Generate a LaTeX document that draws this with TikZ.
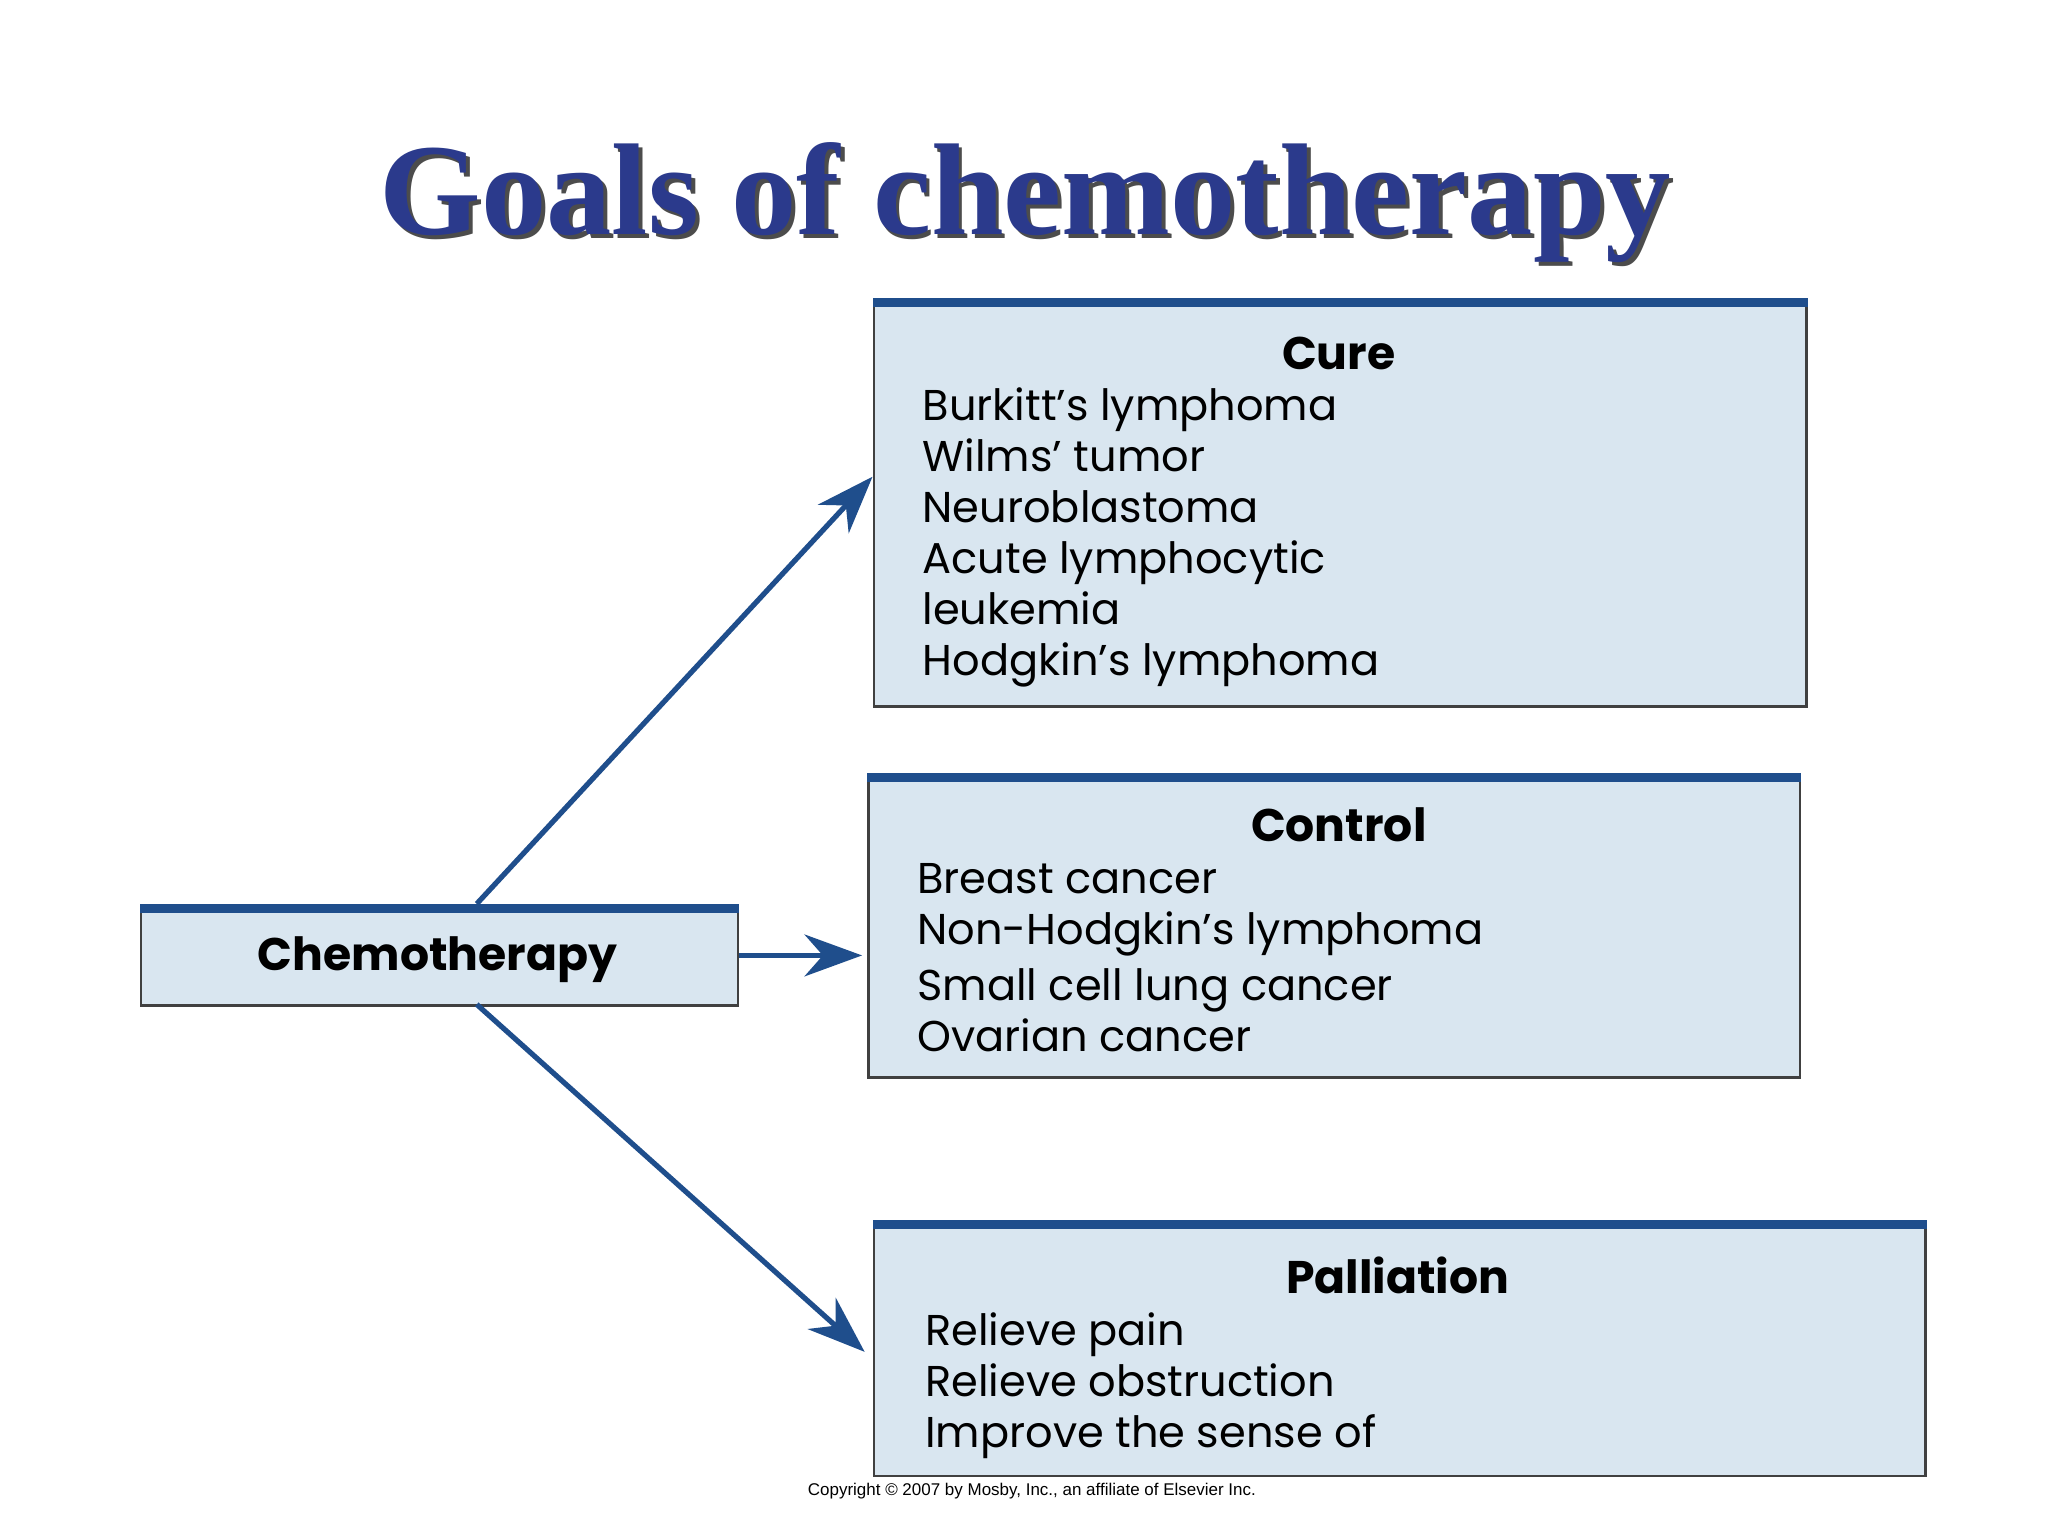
\documentclass[tikz,border=0pt]{standalone}
\usepackage{fontspec}
\setmainfont{Liberation Serif}
\newfontfamily\boxfont{Poppins}
\usetikzlibrary{arrows.meta}
\definecolor{bfill}{HTML}{D9E6F0}
\definecolor{bbar}{HTML}{1F4E8C}
\definecolor{tblue}{HTML}{2B3A8C}
\begin{document}
\begin{tikzpicture}[x=0.5pt,y=-0.5pt,
  box/.style={draw=black!75,line width=1pt,fill=bfill,anchor=north west,inner sep=0},
  item/.style={anchor=base west,inner sep=0,font=\boxfont\fontsize{16.5}{18}\selectfont},
  head/.style={anchor=base,inner sep=0,font=\boxfont\bfseries\fontsize{17.5}{18}\selectfont},
  arr/.style={draw=bbar,line width=2pt,-{Stealth[length=22pt,width=16pt,inset=7pt]}}]
\useasboundingbox[fill=white] (0,0) rectangle (1568,1176);
\node[font=\bfseries\fontsize{50}{56}\selectfont,text=black!70] at (788,158) {Goals of chemotherapy};
\node[font=\bfseries\fontsize{50}{56}\selectfont,text=tblue] (title) at (785,155) {Goals of chemotherapy};
% boxes
\node[box,minimum width=357pt,minimum height=156pt] (cure) at (668,228) {};
\node[box,minimum width=356.5pt,minimum height=116pt] (control) at (664,592) {};
\node[box,minimum width=402.5pt,minimum height=97.5pt] (pall) at (668,934) {};
\node[box,minimum width=228.5pt,minimum height=38.5pt] (chemo) at (107,692) {};
\foreach \n in {cure,control,pall,chemo}{
  \fill[bbar] (\n.north west) rectangle ([yshift=-3.5pt]\n.north east);}
\node[anchor=base,inner sep=0,font=\boxfont\bfseries\fontsize{17.5}{18}\selectfont] at (335,743) {Chemotherapy};
% cure text
\node[head] at (1025,283) {Cure};
\node[item] at (706,322) {Burkitt’s lymphoma};
\node[item] at (706,361) {Wilms’ tumor};
\node[item] at (706,400) {Neuroblastoma};
\node[item] at (706,439) {Acute lymphocytic};
\node[item] at (706,478) {leukemia};
\node[item] at (706,517) {Hodgkin’s lymphoma};
% control
\node[head] at (1025,644) {Control};
\node[item] at (702,684) {Breast cancer};
\node[item] at (702,723) {Non-Hodgkin’s lymphoma};
\node[item] at (702,766) {Small cell lung cancer};
\node[item] at (702,805) {Ovarian cancer};
% palliation
\node[head] at (1070,990) {Palliation};
\node[item] at (708,1030) {Relieve pain};
\node[item] at (708,1069) {Relieve obstruction};
\node[item] at (708,1108) {Improve the sense of};
\node[font=\fontspec{Liberation Sans}\fontsize{6.5}{7}\selectfont,inner sep=0] at (790,1142) {Copyright © 2007 by Mosby, Inc., an affiliate of Elsevier Inc.};
% arrows
\coordinate (a1) at (365,692);
\coordinate (a3) at (365,769);
\draw[arr] (a1) -- (cure.west |- 0,365);
\draw[arr] (chemo.east) -- ([xshift=-2pt]control.west |- chemo.east);
\draw[arr] (a3) -- ([xshift=-3pt]pall.west |- 0,1035);
\end{tikzpicture}
\end{document}
